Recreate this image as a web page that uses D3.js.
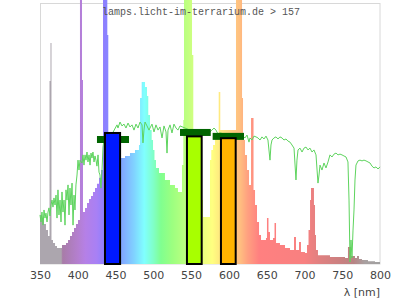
<!DOCTYPE html>
<html><head><meta charset="utf-8">
<script src="https://cdn.jsdelivr.net/npm/d3@7"></script>
<style>html,body{margin:0;padding:0;background:#fff;}svg{display:block;}</style>
</head><body>
<script>
// Lamp spectrum (step data: wavelength where step starts, relative intensity)
const specL = [350,352.6,355.3,357.9,360.6,362.6,363.9,365.2,367.2,369.9,372.5,379.1,384.4,387.1,389.7,392.4,395.0,397.6,400.3,402.9,405.6,406.9,409.6,412.2,414.9,417.5,420.1,422.8,425.4,428.1,430.7,433.4,439.1,440.4,457.2,462.5,469.1,475.7,481.0,482.4,484.6,489.0,491.6,493.3,495.6,497.8,499.6,501.5,503.5,507.5,515.4,522.1,528.7,532.6,537.9,539.7,540.6,551.2,552.9,565.7,575.0,576.7,579.0,581.6,586.5,588.6,609.4,617.4,618.7,621.3,624.0,626.6,629.3,632.6,634.6,637.2,639.9,642.5,649.1,650.4,652.4,654.4,658.4,660.4,662.4,667.6,674.3,680.9,686.2,688.8,692.8,695.4,700.7,703.4,705.4,707.4,708.7,712.6,714.0,715.3,717.9,733.8,753.7,757.6,761.6,766.9,769.6,772.2,776.2,784.1,793.4];
const specV = [18.8,17.6,15.3,13.0,10.7,70.1,84.7,9.2,8.0,6.9,6.1,7.3,8.0,9.2,10.7,12.3,13.8,15.3,16.9,140,70.5,19.9,21.5,23.4,24.9,26.1,27.6,29.1,30.7,33.0,36.0,140,87.7,40,40.6,41.4,42.5,43.7,45.6,63.6,69.7,67.8,64.4,57.1,51.3,47.5,43.7,39.8,36.8,34.9,32.2,30.3,29.1,27.6,37.9,55.2,140,80.1,24.5,18,39.8,43.7,45.6,50.2,65.9,51.3,140,63.6,47.5,41.8,36,30.3,55.9,28.4,22.6,16.1,11.1,9.2,10,17.6,12.3,9.2,10,15.7,8.0,7.3,6.1,5.4,10.3,5.4,8.4,4.6,4.2,7.3,13,24.5,29.1,22.6,11.1,5.4,3.4,2.7,2.3,6.5,3.1,2.3,3.1,1.9,1.5,1.1,0.8];

// Reference (green) curve
const refL = [350,351.3,352.6,354.0,355.3,356.6,357.9,359.3,360.6,361.9,363.2,364.6,365.9,367.2,368.5,369.9,371.2,372.5,373.8,375.1,376.5,377.8,379.1,380.4,381.8,383.1,384.4,385.7,387.1,388.4,389.7,391.0,392.4,393.7,395.0,396.3,397.6,399.0,400.3,401.6,402.9,405.6,406.9,408.2,409.6,410.9,412.2,413.5,414.9,416.2,417.5,418.8,420.1,421.5,422.8,424.1,425.4,426.8,428.1,429.4,430.7,432.1,433.4,434.7,442.6,451.9,453.2,455.9,458.5,461.2,463.8,466.5,469.1,471.8,474.4,477.1,479.7,482.4,485.0,486.3,487.6,489.0,491.6,494.3,495.6,498.2,500.9,503.5,506.2,508.8,511.5,514.1,516.8,518.1,519.4,522.1,524.7,527.3,530.0,532.6,535.3,548.5,565.7,569.7,573.7,577.6,580.3,582.9,585.6,588.2,601.5,618.7,621.3,624.0,626.6,627.9,630.6,633.2,635.9,638.5,641.2,643.8,646.5,649.1,651.7,654.4,655.7,657.1,659.7,662.3,665.0,667.6,670.3,672.9,675.6,678.2,680.9,683.5,686.2,688.8,690.1,691.5,694.1,696.8,699.4,702.1,704.7,707.3,710.0,712.6,715.3,717.9,719.3,720.6,723.2,725.9,728.5,731.2,733.8,736.5,739.1,741.8,744.4,747.1,749.7,752.3,755.0,757.6,759.0,760.3,761.6,762.9,764.3,765.6,766.9,768.2,770.9,773.5,776.2,778.8,781.5,784.1,786.8,789.4,792.1,794.7,797.4,800];
const refV = [18.8,16.1,19.9,14.9,20.7,17.6,19.5,16.1,19.9,21.5,18.4,22.6,24.5,21.8,25.3,22.6,26.4,17.6,28.4,18.8,24.5,16.1,27.6,19.9,24.5,14.9,28.4,24.5,30.3,18.8,29.1,22.6,31.0,14.9,26.4,20.7,30.3,34.1,39.8,36.0,39.8,38.7,41.8,37.9,41.8,39.8,42.9,39.1,41.8,37.9,42.5,40.6,42.9,39.1,41.4,39.8,37.5,41.8,35.2,34.1,29.1,36.0,44.8,47.5,48.3,53.3,52.1,54.4,52.9,53.6,52.1,54.0,52.5,53.3,51.3,53.6,52.1,54.4,53.3,46.4,51.3,54.4,52.9,51.3,52.1,53.6,50.6,53.3,51.3,52.5,48.3,52.9,50.6,42.5,51.3,53.3,50.2,53.6,52.1,51.3,52.9,51.3,50.2,49.8,50.2,51.3,52.1,51.3,49.8,50.2,49.4,49.0,48.3,49.4,46.7,48.3,47.5,49.0,48.7,48.3,47.5,48.7,47.9,49.0,47.5,39.8,45.6,47.5,48.3,48.7,47.9,48.7,48.3,47.5,47.9,47.1,46.7,45.6,44.4,32.2,39.8,43.7,44.4,42.9,44.4,44.8,43.7,44.4,42.9,43.7,41.8,31.0,34.1,37.9,36.0,38.7,36.8,39.1,41.8,41.0,42.1,42.5,41.8,42.1,41.8,41.4,41.0,39.1,24.5,0.8,9.2,2.3,13.0,20.7,32.2,37.9,39.5,39.8,39.5,39.8,39.5,39.1,38.7,37.5,36.8,37.2,36.4,37.2];

// Colour bands (bars) and their reference markers
const bandNames = ["blue","green","orange"];
const bandFrom  = [436, 544.5, 589.5];
const bandTo    = [456, 564, 609];
const bandValue = [50.2, 48.9, 48.2];
const markFrom  = [425.4, 535.3, 578.5];
const markTo    = [467.8, 576, 620];
const markValue = [47.7, 50.4, 48.9];

const xTicks = [350,400,450,500,550,600,650,700,750,800];
const title = "lamps.licht-im-terrarium.de > 157";
const xLabel = "λ [nm]";

// styles
const bandColors = ["#0019ff","#a8ff00","#ffb400"];
const specStops = [[350,"#aca6ae"],[378,"#aca6ae"],[380,"#a87ca8"],[400,"#b47fcf"],[410,"#b580e6"],[425,"#a880f5"],[436,"#8c80ff"],[450,"#8096ff"],[460,"#80aaff"],[475,"#80d4ff"],[488,"#80ffff"],[500,"#80ffc8"],[510,"#80ff90"],[525,"#9cff80"],[546,"#c2ff80"],[565,"#eaff80"],[578,"#ffff80"],[590,"#ffe480"],[605,"#ffcc80"],[615,"#ffbe80"],[625,"#ffa080"],[640,"#ff8080"],[700,"#f88080"],[720,"#e08080"],[750,"#c88080"],[765,"#b88484"],[780,"#a8a0a0"],[800,"#a0a0a0"]];

const W = 400, H = 300;
const svg = d3.select("body").append("svg").attr("width", W).attr("height", H);
const x = d3.scaleLinear().domain([350, 800]).range([40, 380]);
const y = d3.scaleLinear().domain([0, 100]).range([264, 3]);

// frame
svg.append("rect").attr("x", 40.5).attr("y", 3.5).attr("width", 339.5).attr("height", 260.5)
  .attr("fill", "none").attr("stroke", "#d8d8d8").attr("stroke-width", 1);

// gradient
const grad = svg.append("defs").append("linearGradient").attr("id", "wl")
  .attr("gradientUnits", "userSpaceOnUse")
  .attr("x1", x(350)).attr("x2", x(800)).attr("y1", 0).attr("y2", 0);
specStops.forEach(s => grad.append("stop")
  .attr("offset", (s[0] - 350) / 450).attr("stop-color", s[1]));

const spec = specL.map((l, i) => ({l, v: specV[i]}));
spec.push({l: 800, v: specV[specV.length - 1]});
svg.append("path").datum(spec)
  .attr("fill", "url(#wl)")
  .attr("d", d3.area().curve(d3.curveStepAfter).x(d => x(d.l)).y0(y(0)).y1(d => y(d.v)));

// reference line
const ref = refL.map((l, i) => ({l, v: refV[i]}));
svg.append("path").datum(ref)
  .attr("fill", "none").attr("stroke", "#5ed45e").attr("stroke-width", 1)
  .attr("d", d3.line().x(d => x(d.l)).y(d => y(d.v)));

// markers
svg.selectAll(".mark").data(bandNames).enter().append("rect")
  .attr("x", (d, i) => x(markFrom[i]))
  .attr("width", (d, i) => x(markTo[i]) - x(markFrom[i]))
  .attr("y", (d, i) => y(markValue[i]) - 3.5)
  .attr("height", 7)
  .attr("fill", "#006400");

// bars
svg.selectAll(".band").data(bandNames).enter().append("rect")
  .attr("x", (d, i) => x(bandFrom[i]))
  .attr("width", (d, i) => x(bandTo[i]) - x(bandFrom[i]))
  .attr("y", (d, i) => y(bandValue[i]))
  .attr("height", (d, i) => y(0) - y(bandValue[i]))
  .attr("fill", (d, i) => bandColors[i])
  .attr("stroke", "#000").attr("stroke-width", 2);

// x axis labels
const ax = svg.append("g").attr("transform", "translate(0,264)")
  .call(d3.axisBottom(x).tickValues(xTicks).tickSize(0).tickPadding(7).tickFormat(d3.format("d")));
ax.select(".domain").remove();
ax.selectAll("text").attr("font-family", "DejaVu Sans").attr("font-size", 11).attr("fill", "#444");

svg.append("text").attr("x", 380).attr("y", 296).attr("text-anchor", "end")
  .attr("font-family", "DejaVu Sans").attr("font-size", 11).attr("fill", "#444").text(xLabel);

svg.append("text").attr("x", 201).attr("y", 15).attr("text-anchor", "middle")
  .attr("font-family", "Liberation Mono").attr("font-size", 10).attr("fill", "#555").text(title);
</script>
</body></html>
